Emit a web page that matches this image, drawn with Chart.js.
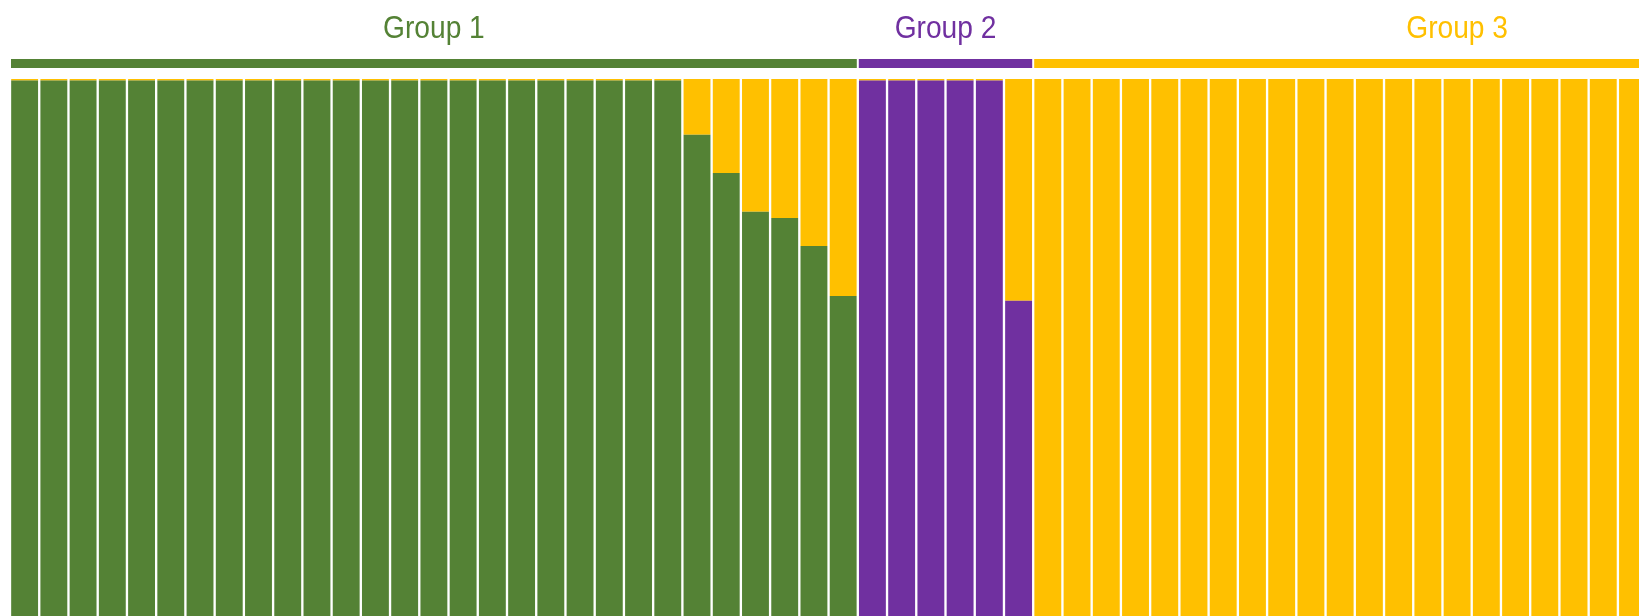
<!DOCTYPE html>
<html>
<head>
<meta charset="utf-8">
<script src="https://cdn.jsdelivr.net/npm/chart.js@4/dist/chart.umd.min.js"></script>
<style>
  html, body { margin: 0; padding: 0; background: #fff; overflow: hidden; }
  #wrap { width: 1881px; height: 616px; }
</style>
</head>
<body>
<div id="wrap"><canvas id="structPlot" width="1881" height="616"></canvas></div>
<script>
// group names, how many samples each holds, and their colours
var groupNames = ['Group 1', 'Group 2', 'Group 3'];
var groupSizes = [29, 6, 29];
var groupColors = ['#548235', '#7030A0', '#FFC000'];

// ancestry share per sample (green / purple / yellow), left to right
var greenShare = [
    0.997, 0.997, 0.997, 0.997, 0.997, 0.997, 0.997, 0.997, 0.997, 0.997,
    0.997, 0.997, 0.997, 0.997, 0.997, 0.997, 0.997, 0.997, 0.997, 0.997,
    0.997, 0.997, 0.997, 0.896, 0.825, 0.753, 0.741, 0.689, 0.596,
    0, 0, 0, 0, 0, 0,
    0, 0, 0, 0, 0, 0, 0, 0, 0, 0, 0, 0, 0, 0, 0, 0, 0, 0, 0, 0, 0, 0, 0, 0, 0, 0, 0, 0, 0
];
var purpleShare = [
    0, 0, 0, 0, 0, 0, 0, 0, 0, 0, 0, 0, 0, 0, 0, 0, 0, 0, 0, 0, 0, 0, 0, 0, 0, 0, 0, 0, 0,
    0.997, 0.997, 0.997, 0.997, 0.997, 0.587,
    0, 0, 0, 0, 0, 0, 0, 0, 0, 0, 0, 0, 0, 0, 0, 0, 0, 0, 0, 0, 0, 0, 0, 0, 0, 0, 0, 0, 0
];
var yellowShare = [
    0.003, 0.003, 0.003, 0.003, 0.003, 0.003, 0.003, 0.003, 0.003, 0.003,
    0.003, 0.003, 0.003, 0.003, 0.003, 0.003, 0.003, 0.003, 0.003, 0.003,
    0.003, 0.003, 0.003, 0.104, 0.175, 0.247, 0.259, 0.311, 0.404,
    0.003, 0.003, 0.003, 0.003, 0.003, 0.413,
    1, 1, 1, 1, 1, 1, 1, 1, 1, 1, 1, 1, 1, 1, 1, 1, 1, 1, 1, 1, 1, 1, 1, 1, 1, 1, 1, 1, 1
];

var samples = [];
for (var i = 0; i < greenShare.length; i++) {
    samples.push('S' + (i + 1));
}

// coloured bar + name above each group of samples
var groupHeaders = {
    id: 'groupHeaders',
    afterDraw: function (chart) {
        var ctx = chart.ctx;
        var xs = chart.scales.x;
        var step = xs.getPixelForValue(1) - xs.getPixelForValue(0);
        var start = 0;
        for (var g = 0; g < groupNames.length; g++) {
            var end = start + groupSizes[g] - 1;
            var x0 = xs.getPixelForValue(start) - step / 2 + 1;
            var x1 = xs.getPixelForValue(end) + step / 2 - 1;
            ctx.save();
            ctx.fillStyle = groupColors[g];
            ctx.fillRect(x0, 59, x1 - x0, 9);
            // names are set a little condensed
            ctx.translate((x0 + x1) / 2, 38);
            ctx.scale(0.88, 1);
            ctx.font = '32px "Liberation Sans", Arial, sans-serif';
            ctx.textAlign = 'center';
            ctx.textBaseline = 'alphabetic';
            ctx.fillText(groupNames[g], 0, 0);
            ctx.restore();
            start = end + 1;
        }
    }
};

var structPlot = new Chart(document.getElementById('structPlot'), {
    type: 'bar',
    data: {
        labels: samples,
        datasets: [
            { label: 'green', data: greenShare, backgroundColor: groupColors[0] },
            { label: 'purple', data: purpleShare, backgroundColor: groupColors[1] },
            { label: 'yellow', data: yellowShare, backgroundColor: groupColors[2] }
        ]
    },
    options: {
        responsive: false,
        animation: false,
        devicePixelRatio: 1,
        layout: { padding: { top: 79, left: 10, right: 0, bottom: 0 } },
        datasets: {
            bar: { barPercentage: 0.92, categoryPercentage: 1, borderWidth: 0 }
        },
        scales: {
            x: { stacked: true, display: false },
            y: { stacked: true, display: false, min: 0, max: 1 }
        },
        plugins: {
            legend: { display: false },
            tooltip: { enabled: false }
        }
    },
    plugins: [groupHeaders]
});
</script>
</body>
</html>
